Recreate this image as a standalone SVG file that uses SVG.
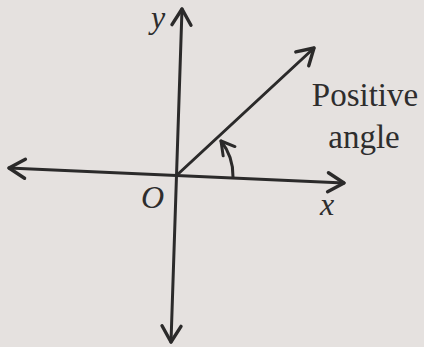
<svg xmlns="http://www.w3.org/2000/svg" width="424" height="347" viewBox="0 0 424 347">
  <style>
    .ln { stroke: #2b2a2a; stroke-width: 3; fill: none; stroke-linecap: round; }
    .lbl { font-family: "Liberation Serif", "Times New Roman", serif; fill: #2e2d2d; }
    .it { font-style: italic; }
  </style>
  <defs>
    <marker id="chev" markerUnits="userSpaceOnUse" markerWidth="24" markerHeight="24" viewBox="-20 -12 24 24" refX="0" refY="0" orient="auto-start-reverse">
      <path d="M -16 -9.5 L 0 0 L -16 9.5" fill="none" stroke="#2b2a2a" stroke-width="3.4" stroke-linejoin="round" stroke-linecap="round"/>
    </marker>
    <marker id="small" markerUnits="userSpaceOnUse" markerWidth="20" markerHeight="20" viewBox="-16 -10 20 20" refX="0" refY="0" orient="auto">
      <path d="M -13 -7.5 L 0 0 L -13 7.5" fill="none" stroke="#2b2a2a" stroke-width="3" stroke-linejoin="round" stroke-linecap="round"/>
    </marker>
  </defs>
  <rect width="424" height="347" fill="#e5e1df"/>
  <g id="connectors">
    <line id="x-axis" class="ln" x1="9" y1="168" x2="344" y2="183" marker-start="url(#chev)" marker-end="url(#chev)"/>
    <line id="y-axis" class="ln" x1="171" y1="342" x2="182" y2="9" marker-start="url(#chev)" marker-end="url(#chev)"/>
    <line id="ray" class="ln" x1="177" y1="175" x2="314" y2="48" marker-end="url(#chev)"/>
    <path id="angle-arc" class="ln" d="M 233 177 A 56 56 0 0 0 221 141" marker-end="url(#small)"/>
  </g>
  <g id="label-y"><text class="lbl it" x="151" y="28" font-size="32">y</text></g>
  <g id="label-O"><text class="lbl it" x="141" y="208" font-size="32">O</text></g>
  <g id="label-x"><text class="lbl it" x="320" y="215" font-size="32">x</text></g>
  <g id="label-positive-angle">
    <text class="lbl" x="365" y="106" font-size="33" text-anchor="middle">Positive</text>
    <text class="lbl" x="364" y="148" font-size="33" text-anchor="middle">angle</text>
  </g>
</svg>
